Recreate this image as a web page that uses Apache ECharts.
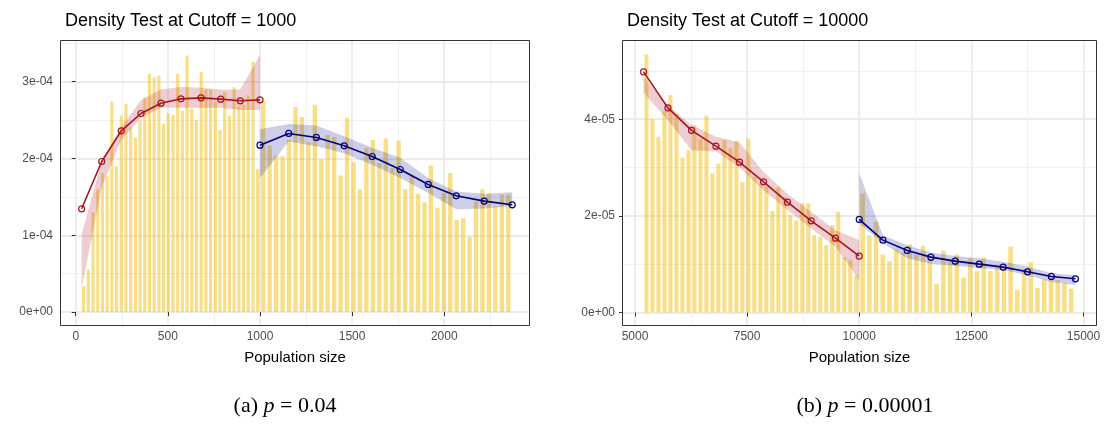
<!DOCTYPE html>
<html><head><meta charset="utf-8">
<script src="https://cdn.jsdelivr.net/npm/echarts@6/dist/echarts.min.js"></script>
<style>html,body{margin:0;padding:0;background:#fff}#c{width:1109px;height:427px}</style>
</head><body><div id="c"></div>
<script>
// ---------- Panel (a): cutoff = 1000 (values in units of 1e-4) ----------
const A_TITLE = 'Density Test at Cutoff = 1000';
const A_CAPTION = ['(a) ', 'p', ' = 0.04'];
const A_SCALE = 1e-4;
const A_HIST_LEFT_RANGE = [30, 1000];
const A_HIST_LEFT = [0.334, 0.551, 1.30, 1.60, 1.81, 1.775, 2.74, 1.90, 2.56, 2.71, 2.41, 2.27, 2.50, 2.79, 3.10, 3.06, 3.08, 2.45, 2.59, 2.57, 3.10, 2.62, 3.34, 2.65, 2.50, 3.13, 2.90, 2.90, 2.74, 2.37, 2.86, 2.56, 2.93, 2.68, 2.70, 2.82, 3.26, 1.86];
const A_HIST_RIGHT_RANGE = [1000, 2365];
const A_HIST_RIGHT = [2.75, 2.17, 2.04, 2.03, 2.24, 2.67, 2.54, 2.21, 2.70, 1.99, 2.31, 2.28, 1.78, 2.53, 1.95, 1.60, 2.14, 2.24, 1.94, 2.26, 1.875, 2.23, 1.60, 1.79, 1.54, 1.43, 1.91, 1.36, 1.55, 1.81, 1.20, 1.22, 0.98, 1.44, 1.60, 1.54, 1.38, 1.53, 1.53];
const A_RED_X  = [32, 141, 247, 354, 463, 571, 680, 787, 893, 1000];
const A_RED_Y  = [1.345, 1.961, 2.36, 2.586, 2.72, 2.777, 2.79, 2.773, 2.751, 2.764];
const A_RED_HI = [1.01, 1.96, 2.41, 2.76, 2.90, 2.93, 2.92, 2.90, 2.90, 3.35];
const A_RED_LO = [0.31, 1.63, 2.24, 2.53, 2.66, 2.66, 2.66, 2.66, 2.63, 2.63];
const A_BLUE_X  = [1000, 1156, 1306, 1457, 1609, 1761, 1913, 2065, 2217, 2369];
const A_BLUE_Y  = [2.174, 2.326, 2.274, 2.165, 2.026, 1.857, 1.662, 1.514, 1.445, 1.397];
const A_BLUE_HI = [2.38, 2.45, 2.43, 2.29, 2.14, 2.01, 1.745, 1.57, 1.54, 1.56];
const A_BLUE_LO = [1.745, 2.22, 2.16, 2.07, 1.92, 1.745, 1.55, 1.34, 1.35, 1.38];
const A_X_TICKS = [0, 500, 1000, 1500, 2000];
const A_Y_TICKS = [0, 1e-4, 2e-4, 3e-4];

// ---------- Panel (b): cutoff = 10000 (values in units of 1e-5) ----------
const B_TITLE = 'Density Test at Cutoff = 10000';
const B_CAPTION = ['(b) ', 'p', ' = 0.00001'];
const B_SCALE = 1e-5;
const B_HIST_LEFT_RANGE = [5190, 10000];
const B_HIST_LEFT = [5.34, 4.00, 3.64, 4.17, 4.50, 4.11, 3.21, 3.36, 3.88, 3.60, 4.08, 2.88, 3.08, 3.57, 3.40, 3.55, 2.70, 3.60, 2.81, 2.67, 2.60, 2.10, 2.59, 2.39, 2.02, 1.91, 2.26, 2.26, 1.60, 1.57, 1.39, 1.81, 2.08, 1.15, 1.08, 0.77];
const B_HIST_RIGHT_RANGE = [10000, 14800];
const B_HIST_RIGHT = [2.46, 1.60, 1.88, 1.20, 1.06, 1.30, 1.24, 1.41, 1.19, 1.38, 1.08, 0.59, 1.28, 1.07, 1.20, 0.72, 1.12, 0.86, 1.14, 0.86, 0.93, 0.93, 1.36, 0.46, 0.89, 1.04, 0.51, 0.68, 0.67, 0.67, 0.61, 0.49];
const B_RED_X  = [5192, 5735, 6261, 6805, 7331, 7866, 8400, 8929, 9470, 10000];
const B_RED_Y  = [4.98, 4.236, 3.768, 3.443, 3.112, 2.704, 2.284, 1.897, 1.538, 1.166];
const B_RED_HI = [4.88, 4.29, 3.88, 3.64, 3.52, 2.91, 2.46, 2.08, 1.70, 1.50];
const B_RED_LO = [4.55, 3.98, 3.36, 3.33, 3.00, 2.53, 2.12, 1.74, 1.36, 0.67];
const B_BLUE_X  = [10000, 10528, 11070, 11598, 12140, 12674, 13209, 13751, 14285, 14820];
const B_BLUE_Y  = [1.925, 1.497, 1.284, 1.145, 1.062, 1.0, 0.938, 0.841, 0.745, 0.696];
const B_BLUE_HI = [2.88, 1.60, 1.39, 1.24, 1.17, 1.12, 1.05, 0.95, 0.81, 0.77];
const B_BLUE_LO = [1.84, 1.43, 1.12, 1.01, 0.96, 0.92, 0.88, 0.77, 0.63, 0.57];
const B_X_TICKS = [5000, 7500, 10000, 12500, 15000];
const B_Y_TICKS = [0, 2e-5, 4e-5];

// ---------- styling / layout ----------
const FONT = 'Liberation Sans, Arial, Helvetica, sans-serif';
const BAR_COLOR = 'rgba(242,196,36,0.55)';
const RED = '#A8141F', BLUE = '#000080';
const RED_FILL = 'rgba(178,34,52,0.22)', BLUE_FILL = 'rgba(30,30,150,0.22)';
const GRIDS = [
  {left: 61, top: 41, width: 468, height: 284},
  {left: 623, top: 41, width: 473, height: 284}
];

function histData(range, vals, scale) {
  const w = (range[1] - range[0]) / vals.length;
  return vals.map((v, i) => [range[0] + i * w, range[0] + (i + 1) * w, v * scale]);
}
function barSeries(idx, range, vals, scale) {
  return {
    type: 'custom', xAxisIndex: idx, yAxisIndex: idx, z: 1, silent: true,
    data: histData(range, vals, scale),
    renderItem: function (params, api) {
      const a = api.coord([api.value(0), api.value(2)]);
      const b = api.coord([api.value(1), 0]);
      const w = b[0] - a[0], g = w * 0.16;
      return {type: 'rect', shape: {x: a[0] + g, y: a[1], width: w - 2 * g, height: b[1] - a[1]},
              style: {fill: BAR_COLOR}};
    }
  };
}
function ribbonSeries(idx, xs, hi, lo, scale, fill) {
  return {
    type: 'custom', xAxisIndex: idx, yAxisIndex: idx, z: 2, silent: true,
    data: [[xs[0], hi[0] * scale]],
    renderItem: function (params, api) {
      const pts = [];
      for (let i = 0; i < xs.length; i++) pts.push(api.coord([xs[i], hi[i] * scale]));
      for (let i = xs.length - 1; i >= 0; i--) pts.push(api.coord([xs[i], lo[i] * scale]));
      return {type: 'polygon', shape: {points: pts}, style: {fill: fill}};
    }
  };
}
function lineSeries(idx, xs, ys, scale, color) {
  return {
    type: 'line', xAxisIndex: idx, yAxisIndex: idx, z: 3, silent: true,
    data: xs.map((x, i) => [x, ys[i] * scale]),
    symbol: 'circle', symbolSize: 6,
    itemStyle: {color: 'rgba(255,255,255,0)', borderColor: color, borderWidth: 1.2},
    lineStyle: {color: color, width: 1.6}
  };
}
function sciFmt(v) {
  const s = Number(v).toExponential(0);
  const m = s.match(/^(-?\d)e([+-])(\d+)$/);
  return m ? m[1] + 'e' + m[2] + m[3].padStart(2, '0') : s;
}
function plainFmt(v) { return String(Math.round(v)); }
function xAxis(idx, min, max, step, ticks) {
  return {
    type: 'value', gridIndex: idx, min: min, max: max, minInterval: step, maxInterval: step, splitNumber: 5,
    name: 'Population size', nameLocation: 'middle', nameGap: 25,
    nameTextStyle: {fontSize: 15, color: '#000', fontFamily: FONT},
    axisLine: {show: false},
    axisTick: {show: true, length: 4, lineStyle: {color: '#333'}, customValues: ticks},
    axisLabel: {fontSize: 12, color: '#4D4D4D', fontFamily: FONT, margin: 6, formatter: plainFmt, customValues: ticks},
    splitLine: {show: true, lineStyle: {color: '#EBEBEB', width: 1.8}},
    minorTick: {show: false, splitNumber: 2},
    minorSplitLine: {show: true, lineStyle: {color: '#F0F0F0', width: 1}}
  };
}
function yAxis(idx, min, max, step, ticks) {
  return {
    type: 'value', gridIndex: idx, min: min, max: max, minInterval: step, maxInterval: step, splitNumber: 4,
    axisLine: {show: false},
    axisTick: {show: true, length: 4, lineStyle: {color: '#333'}, customValues: ticks},
    axisLabel: {fontSize: 12, color: '#4D4D4D', fontFamily: FONT, margin: 8, formatter: sciFmt, customValues: ticks},
    splitLine: {show: true, lineStyle: {color: '#EBEBEB', width: 1.8}},
    minorTick: {show: false, splitNumber: 2},
    minorSplitLine: {show: true, lineStyle: {color: '#F0F0F0', width: 1}}
  };
}

const chart = echarts.init(document.getElementById('c'), null, {renderer: 'canvas'});
chart.setOption({
  animation: false,
  backgroundColor: '#fff',
  title: [
    {text: A_TITLE, left: 60, top: 7, textStyle: {fontSize: 18, fontWeight: 'normal', color: '#000', fontFamily: FONT}},
    {text: B_TITLE, left: 622, top: 7, textStyle: {fontSize: 18, fontWeight: 'normal', color: '#000', fontFamily: FONT}}
  ],
  grid: GRIDS.map(g => Object.assign({containLabel: false}, g)),
  xAxis: [xAxis(0, -80, 2460, 500, A_X_TICKS), xAxis(1, 4733, 15279, 2500, B_X_TICKS)],
  yAxis: [yAxis(0, -0.0000168, 0.000353, 1e-4, A_Y_TICKS), yAxis(1, -0.0000026, 0.0000562, 2e-5, B_Y_TICKS)],
  series: [
    barSeries(0, A_HIST_LEFT_RANGE, A_HIST_LEFT, A_SCALE),
    barSeries(0, A_HIST_RIGHT_RANGE, A_HIST_RIGHT, A_SCALE),
    ribbonSeries(0, A_RED_X, A_RED_HI, A_RED_LO, A_SCALE, RED_FILL),
    ribbonSeries(0, A_BLUE_X, A_BLUE_HI, A_BLUE_LO, A_SCALE, BLUE_FILL),
    lineSeries(0, A_RED_X, A_RED_Y, A_SCALE, RED),
    lineSeries(0, A_BLUE_X, A_BLUE_Y, A_SCALE, BLUE),
    barSeries(1, B_HIST_LEFT_RANGE, B_HIST_LEFT, B_SCALE),
    barSeries(1, B_HIST_RIGHT_RANGE, B_HIST_RIGHT, B_SCALE),
    ribbonSeries(1, B_RED_X, B_RED_HI, B_RED_LO, B_SCALE, RED_FILL),
    ribbonSeries(1, B_BLUE_X, B_BLUE_HI, B_BLUE_LO, B_SCALE, BLUE_FILL),
    lineSeries(1, B_RED_X, B_RED_Y, B_SCALE, RED),
    lineSeries(1, B_BLUE_X, B_BLUE_Y, B_SCALE, BLUE)
  ],
  graphic: [
    ...GRIDS.map(g => ({type: 'rect', z: 100, silent: true,
      shape: {x: g.left - 0.5, y: g.top - 0.5, width: g.width + 1, height: g.height + 1},
      style: {fill: 'none', stroke: '#333', lineWidth: 1}})),
    {type: 'text', z: 100, x: 285, y: 406, silent: true,
      style: {text: A_CAPTION[0] + '{i|' + A_CAPTION[1] + '}' + A_CAPTION[2], align: 'center', verticalAlign: 'middle',
        font: '22px "Liberation Serif", "DejaVu Serif", serif', fill: '#000',
        rich: {i: {fontStyle: 'italic', fontSize: 22, fontFamily: 'Liberation Serif'}}}},
    {type: 'text', z: 100, x: 865, y: 406, silent: true,
      style: {text: B_CAPTION[0] + '{i|' + B_CAPTION[1] + '}' + B_CAPTION[2], align: 'center', verticalAlign: 'middle',
        font: '22px "Liberation Serif", "DejaVu Serif", serif', fill: '#000',
        rich: {i: {fontStyle: 'italic', fontSize: 22, fontFamily: 'Liberation Serif'}}}}
  ]
});
</script>
</body></html>
